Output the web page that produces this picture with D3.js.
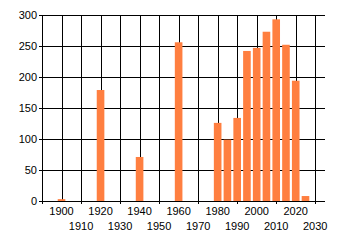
<!DOCTYPE html>
<html lang="en">
<head>
<meta charset="UTF-8">
<title>Bar chart</title>
<script src="https://d3js.org/d3.v7.min.js"></script>
<style>
  body { margin: 0; background: #fff; }
  text { font-family: "Liberation Sans", Arial, sans-serif; font-size: 11px; fill: #000; }
</style>
</head>
<body>
<div id="chart"></div>
<script>
const years = [1900, 1920, 1940, 1960, 1980, 1985, 1990, 1995, 2000, 2005, 2010, 2015, 2020, 2025];
const values = [3, 179, 71, 256, 126, 99, 134, 242, 247, 273, 293, 252, 194, 8];
const xTicks = [1900, 1910, 1920, 1930, 1940, 1950, 1960, 1970, 1980, 1990, 2000, 2010, 2020, 2030];
const yTicks = [0, 50, 100, 150, 200, 250, 300];

const width = 340, height = 245;
const margin = { left: 42, right: 325, top: 15, bottom: 201 };

const svg = d3.select("#chart").append("svg")
    .attr("width", width)
    .attr("height", height);

const x = d3.scaleLinear().domain([1890, 2035]).range([margin.left, margin.right]);
const y = d3.scaleLinear().domain([0, 300]).range([margin.bottom, margin.top]);
const px = v => Math.round(v) + 0.5;

// horizontal grid
svg.append("g").selectAll("line")
    .data(yTicks)
    .enter().append("line")
    .attr("x1", margin.left - 3).attr("x2", margin.right)
    .attr("y1", d => px(y(d))).attr("y2", d => px(y(d)))
    .attr("stroke", "#000").attr("shape-rendering", "crispEdges");

// vertical grid (axis at 1890 plus decades)
svg.append("g").selectAll("line")
    .data([1890].concat(xTicks))
    .enter().append("line")
    .attr("x1", d => px(x(d))).attr("x2", d => px(x(d)))
    .attr("y1", px(margin.top))
    .attr("y2", d => (d % 20 === 10 ? margin.bottom + 3 : margin.bottom))
    .attr("stroke", "#000").attr("shape-rendering", "crispEdges");

// bars
const barW = 3.9;
svg.append("g").selectAll("rect")
    .data(years)
    .enter().append("rect")
    .attr("x", d => x(d - barW / 2))
    .attr("width", d => x(d + barW / 2) - x(d - barW / 2))
    .attr("y", (d, i) => y(values[i]))
    .attr("height", (d, i) => y(0) - y(values[i]))
    .attr("fill", "#ff7f40");

// y labels
svg.append("g").selectAll("text")
    .data(yTicks)
    .enter().append("text")
    .attr("x", margin.left - 5)
    .attr("y", d => y(d))
    .attr("dy", "0.35em")
    .attr("text-anchor", "end")
    .text(d => d);

// x labels, staggered in two rows
svg.append("g").selectAll("text")
    .data(xTicks)
    .enter().append("text")
    .attr("x", d => x(d))
    .attr("y", d => (d % 20 === 0 ? 215 : 230))
    .attr("text-anchor", "middle")
    .text(d => d);
</script>
</body>
</html>
